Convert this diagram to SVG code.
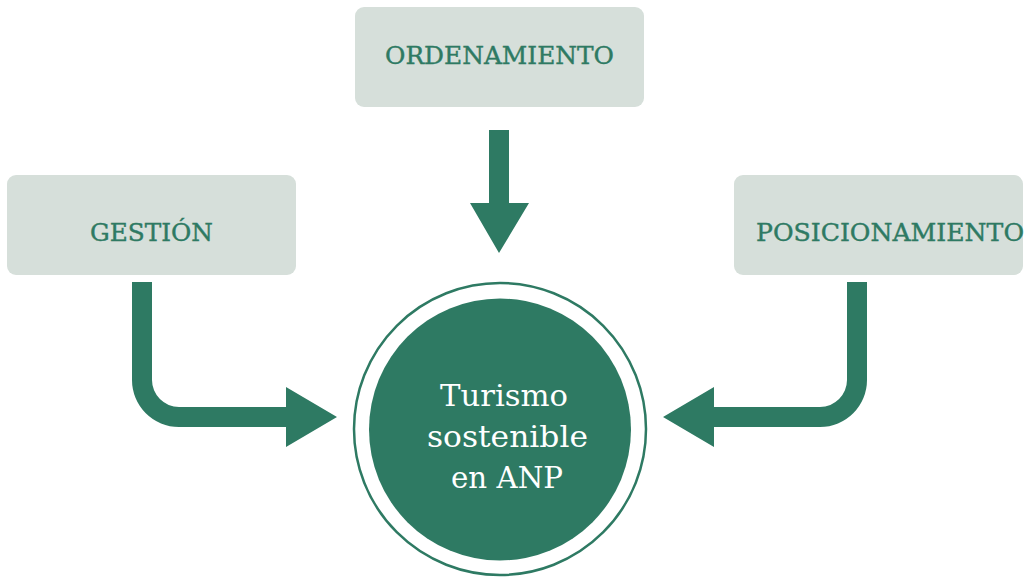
<svg xmlns="http://www.w3.org/2000/svg" width="1030" height="577" viewBox="0 0 1030 577">
<style>
.box{fill:#d6dfda}
.lbl{font-family:"DejaVu Serif","Liberation Serif",serif;font-size:24.5px;fill:#2e7a63;stroke:#2e7a63;stroke-width:0.4}
.ctr{font-family:"DejaVu Serif","Liberation Serif",serif;font-size:29px;fill:#ffffff;text-anchor:middle}
.arr{fill:#2e7a63}
</style>
<rect width="1030" height="577" fill="#ffffff"/>
<g id="connectors">
<path class="arr" d="M489 130 H509 V203 H529 L499 253 L470 203 H489 Z"/>
<path class="arr" d="M132 282 H152 V380 A27 27 0 0 0 179 407 H286 V387 L337 417 L286 447 V427 H179 A47 47 0 0 1 132 380 Z"/>
<path class="arr" d="M867 282 H847 V380 A27 27 0 0 1 820 407 H714 V387 L663 417 L714 447 V427 H820 A47 47 0 0 0 867 380 Z"/>
</g>
<g id="ordenamiento">
<rect class="box" x="355" y="7" width="289" height="100" rx="9"/>
<text class="lbl" x="385" y="64" textLength="229" lengthAdjust="spacingAndGlyphs">ORDENAMIENTO</text>
</g>
<g id="gestion">
<rect class="box" x="7" y="175" width="289" height="100" rx="9"/>
<text class="lbl" x="90" y="241" textLength="123" lengthAdjust="spacingAndGlyphs">GESTIÓN</text>
</g>
<g id="posicionamiento">
<rect class="box" x="734" y="175" width="289" height="100" rx="9"/>
<text class="lbl" x="756" y="241" textLength="268" lengthAdjust="spacingAndGlyphs">POSICIONAMIENTO</text>
</g>
<g id="turismo">
<circle cx="500" cy="429" r="146" fill="none" stroke="#2e7a63" stroke-width="2.5"/>
<circle cx="500" cy="429.5" r="131" fill="#2e7a63"/>
<text class="ctr" x="504" y="406" textLength="128" lengthAdjust="spacingAndGlyphs">Turismo</text>
<text class="ctr" x="507.5" y="447" textLength="161" lengthAdjust="spacingAndGlyphs">sostenible</text>
<text class="ctr" x="507" y="488" textLength="112" lengthAdjust="spacingAndGlyphs">en ANP</text>
</g>
</svg>
